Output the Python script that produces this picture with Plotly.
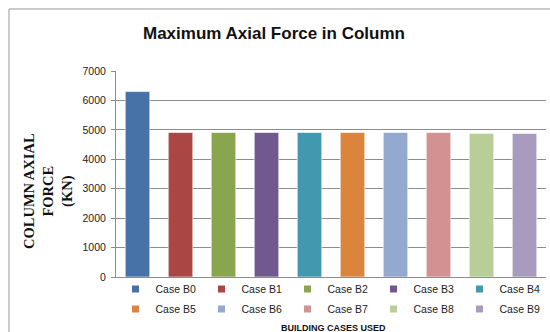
import plotly.graph_objects as go

cases = ["Case B0", "Case B1", "Case B2", "Case B3", "Case B4",
         "Case B5", "Case B6", "Case B7", "Case B8", "Case B9"]
axial_force = [6300, 4910, 4910, 4910, 4910, 4910, 4910, 4910, 4880, 4880]
colors = ["#4672A8", "#AA4643", "#89A54E", "#71588F", "#4198AF",
          "#DB843D", "#93A9CF", "#D19392", "#B9CD96", "#A99BBD"]
y_ticks = [0, 1000, 2000, 3000, 4000, 5000, 6000, 7000]

W, H = 550, 332
L, R, T, B = 116, 4, 71, 55

plot_w = W - L - R
plot_h = H - T - B


def px_x(p):
    return (p - L) / plot_w


def px_y(p):
    return (H - B - p) / plot_h


fig = go.Figure()
for i, (name, val, col) in enumerate(zip(cases, axial_force, colors)):
    fig.add_trace(go.Bar(
        x=[name], y=[val], name=name, showlegend=False,
        marker=dict(color=col, line=dict(color="rgba(255,255,255,0.6)", width=1)),
        width=0.57,
    ))
    # small square legend key, split over two rows of five
    fig.add_trace(go.Scatter(
        x=[None], y=[None], name=name, mode="markers",
        marker=dict(symbol="square", size=7, color=col),
        legend="legend" if i < 5 else "legend2",
    ))

legend_common = dict(orientation="h", xanchor="left", yanchor="middle",
                     entrywidth=41, entrywidthmode="pixels",
                     font=dict(family="Liberation Sans, Arial", size=10.5, color="#222"),
                     itemwidth=30, traceorder="normal",
                     bgcolor="rgba(0,0,0,0)", borderwidth=0)

fig.update_layout(
    width=W, height=H,
    margin=dict(l=L, r=R, t=T, b=B, autoexpand=False),
    paper_bgcolor="white", plot_bgcolor="white",
    barmode="overlay",
    showlegend=True,
    title=dict(text="<b>Maximum Axial Force in Column</b>",
               font=dict(family="Liberation Sans, Arial", size=17, color="#111"),
               x=px_x(274), xref="paper", xanchor="center",
               y=1 - 33 / H, yanchor="middle"),
    xaxis=dict(categoryorder="array", categoryarray=cases,
               showticklabels=False, showgrid=False,
               showline=True, linecolor="#8c8c8c", linewidth=1,
               ticks="", range=[-0.5, 9.5]),
    yaxis=dict(range=[0, 7000], tickvals=y_ticks, showgrid=True,
               gridcolor="#8c8c8c", gridwidth=1,
               showline=True, linecolor="#8c8c8c", linewidth=1,
               ticks="outside", ticklen=4, tickcolor="#8c8c8c",
               ticklabelstandoff=3,
               tickfont=dict(family="Liberation Sans, Arial", size=10.5, color="#222"),
               zeroline=False),
    legend=dict(x=px_x(115.5), y=px_y(289), **legend_common),
    legend2=dict(x=px_x(115.5), y=px_y(309), **legend_common),
    font=dict(family="Liberation Sans, Arial"),
)

# Axis titles
fig.add_annotation(text="<b>COLUMN AXIAL<br>FORCE<br>(KN)</b>",
                   xref="paper", yref="paper", x=px_x(48), y=px_y(191),
                   textangle=-90, showarrow=False, xanchor="center", yanchor="middle",
                   font=dict(family="Liberation Serif, Times New Roman", size=14.5, color="#111"))
fig.add_annotation(text="<b>BUILDING CASES USED</b>",
                   xref="paper", yref="paper", x=px_x(333), y=px_y(328),
                   showarrow=False, xanchor="center", yanchor="middle",
                   font=dict(family="Liberation Sans, Arial", size=9, color="#111"))

# Chart frame
fig.add_shape(type="rect", xref="paper", yref="paper",
              x0=px_x(9), y0=px_y(H + 20), x1=px_x(W + 20), y1=px_y(9),
              line=dict(color="#999", width=1), fillcolor="rgba(0,0,0,0)", layer="below")

fig.write_html("out.html")
